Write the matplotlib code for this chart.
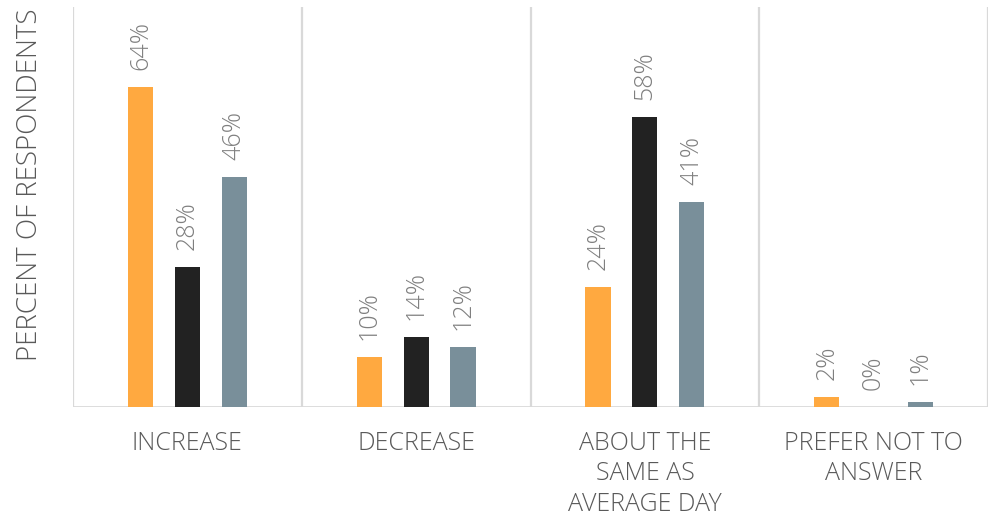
import matplotlib.pyplot as plt
import numpy as np

# Data
categorias = ['INCREASE', 'DECREASE', 'ABOUT THE\nSAME AS\nAVERAGE DAY', 'PREFER NOT TO\nANSWER']
serie_1 = [64, 10, 24, 2]
serie_2 = [28, 14, 58, 0]
serie_3 = [46, 12, 41, 1]
colores = ['#FFA940', '#222222', '#798F9A']

plt.rcParams['font.family'] = ['Open Sans', 'DejaVu Sans']

fig = plt.figure(figsize=(9.89, 5.24), dpi=100)
ax = fig.add_axes([73 / 989, 117 / 524, 915 / 989, 400 / 524])

x = np.arange(len(categorias))
ancho = 0.11
desp = 0.205

for i, (valores, color) in enumerate(zip([serie_1, serie_2, serie_3], colores)):
    pos = x + (i - 1) * desp
    ax.bar(pos, valores, width=ancho, color=color, zorder=3)
    for p, v in zip(pos, valores):
        ax.annotate(f'{v}%', (p, v), xytext=(0, 12), textcoords='offset points',
                    rotation=90, ha='center', va='bottom', fontsize=18,
                    color='#7F7F7F', fontweight='light')

# Lineas separadoras entre categorias
for b in np.arange(-0.5, len(categorias), 1.0):
    ax.axvline(b, color='#D9D9D9', lw=1.6, zorder=1)
ax.axhline(0, color='#D9D9D9', lw=2, zorder=2)

ax.set_xlim(-0.5, len(categorias) - 0.5)
ax.set_ylim(0, 80)
ax.set_xticks(x)
ax.set_xticklabels(categorias, fontsize=18, color='#595959', linespacing=1.3,
                   fontweight='light')
ax.tick_params(axis='x', length=0, pad=17)
ax.set_yticks([])
for s in ax.spines.values():
    s.set_visible(False)

ax.text(-0.047, 0.555, 'PERCENT OF RESPONDENTS', transform=ax.transAxes,
        rotation=90, ha='center', va='center', fontsize=20, color='#595959',
        fontweight='light')

plt.savefig('out.png', dpi=100)
